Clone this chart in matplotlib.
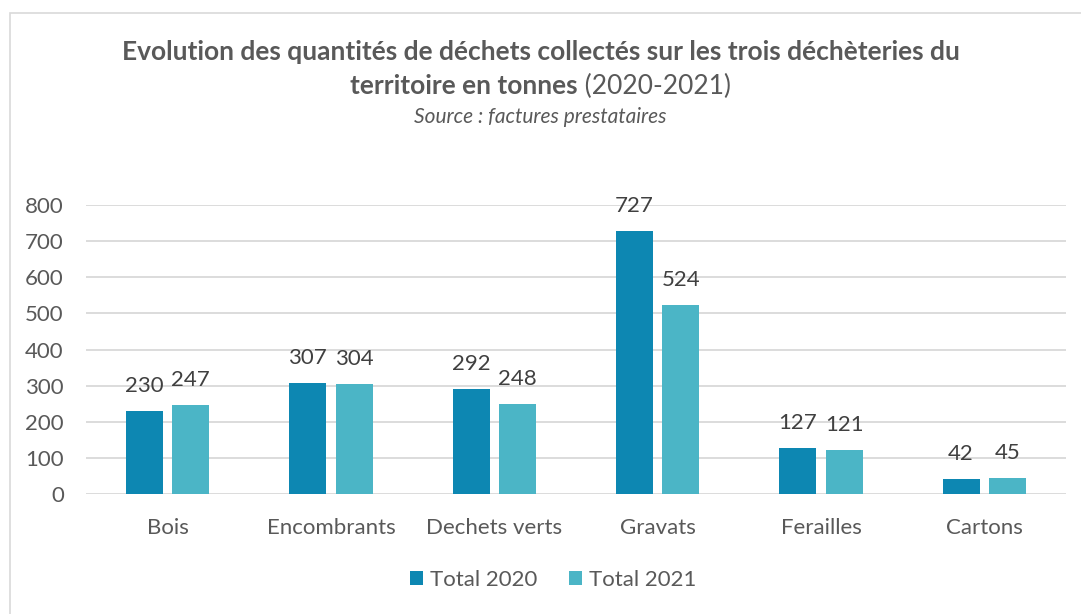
import matplotlib
matplotlib.use("Agg")
import matplotlib.pyplot as plt
import numpy as np
from matplotlib.patches import Rectangle

categories = ["Bois", "Encombrants", "Dechets verts", "Gravats", "Ferailles", "Cartons"]
total_2020 = [230, 307, 292, 727, 127, 42]
total_2021 = [247, 304, 248, 524, 121, 45]
yticks = [0, 100, 200, 300, 400, 500, 600, 700, 800]

C2020 = "#0d87b2"
C2021 = "#4bb5c6"
TEXT = "#595959"
GRID = "#d9d9d9"

plt.rcParams["font.family"] = ["Lato", "DejaVu Sans"]

fig = plt.figure(figsize=(10.81, 6.14), dpi=100)
ax = fig.add_axes([86 / 1081, 1 - 494 / 614, 980 / 1081, (494 - 205) / 614])

x = np.arange(len(categories))
w = 0.227
off = 0.142
b1 = ax.bar(x - off, total_2020, w, color=C2020, label="Total 2020", zorder=3)
b2 = ax.bar(x + off, total_2021, w, color=C2021, label="Total 2021", zorder=3)

for bars in (b1, b2):
    for rect in bars:
        h = rect.get_height()
        ax.annotate(f"{h:.0f}", (rect.get_x() + rect.get_width() / 2, h),
                    xytext=(0, 15), textcoords="offset pixels",
                    ha="center", va="bottom", fontsize=16, color="#404040")

ax.set_xlim(-0.5, len(categories) - 0.5)
ax.set_ylim(0, 800)
ax.set_yticks(yticks)
ax.set_xticks(x)
ax.set_xticklabels(categories)
ax.tick_params(axis="both", length=0, labelsize=16, labelcolor=TEXT)
ax.tick_params(axis="y", pad=16)
ax.tick_params(axis="x", pad=17)
ax.grid(axis="y", color=GRID, linewidth=1.3, zorder=0)
for s in ax.spines.values():
    s.set_visible(False)

fig.legend(handles=[b1, b2], loc="center", bbox_to_anchor=(553 / 1081, 1 - 580 / 614),
           ncol=2, frameon=False, fontsize=16, labelcolor=TEXT,
           handlelength=0.6, handleheight=0.6, handletextpad=0.3, columnspacing=1.4)

# title: bold first part + regular "(2020-2021)" on the second line
fig.text(0.5, 1 - 52 / 614,
         "Evolution des quantités de déchets collectés sur les trois déchèteries du",
         ha="center", va="center", fontsize=19, fontweight="bold", color=TEXT)
t1 = fig.text(0.5, 1 - 86 / 614, "territoire en tonnes", ha="left", va="center",
              fontsize=19, fontweight="bold", color=TEXT)
tail = " (2020-2021)"
t2 = fig.text(0.5, 1 - 86 / 614, tail, ha="left", va="center", fontsize=19, color=TEXT)
fig.canvas.draw()
r = fig.canvas.get_renderer()
wb = t1.get_window_extent(renderer=r).width
wt = t2.get_window_extent(renderer=r).width
left = (1081 - wb - wt) / 2
t1.set_x(left / 1081)
t2.set_x((left + wb) / 1081)

fig.text(0.5, 1 - 117 / 614, "Source : factures prestataires", ha="center", va="center",
         fontsize=15, style="italic", color=TEXT)

fig.add_artist(Rectangle((10 / 1081, -0.1), 1.2, 1 - 13 / 614 + 0.1, transform=fig.transFigure,
                         fill=False, edgecolor="#d9d9d9", linewidth=1.2))

fig.savefig("out.png", dpi=100)
